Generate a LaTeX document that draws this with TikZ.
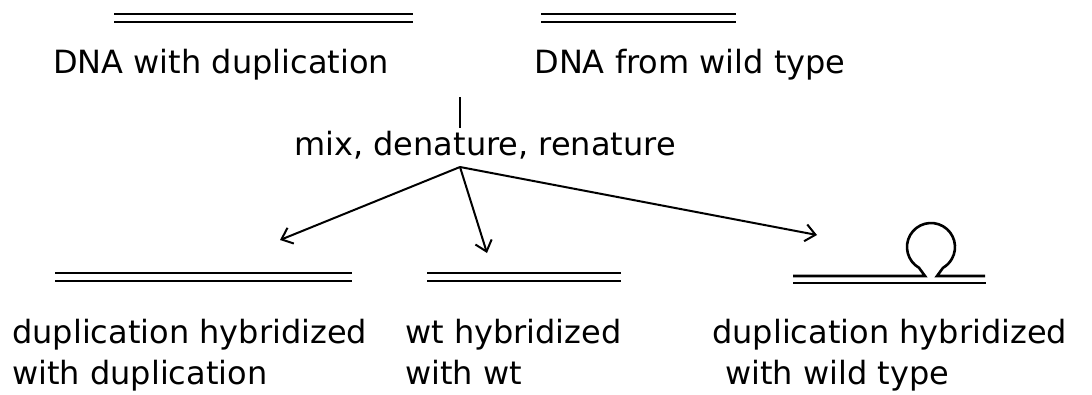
\documentclass[tikz,border=0pt]{standalone}
\usepackage{fontspec}
\setmainfont{DejaVu Sans}
\usetikzlibrary{arrows.meta}
\tikzset{
	strand/.style={double, double distance=5.4pt, line width=2.6pt},
	strandline/.style={line width=2.6pt},
	txt/.style={inner sep=0pt, font=\fontsize{32}{41}\selectfont, align=left},
}
\begin{document}
\begin{tikzpicture}[x=1pt,y=-1pt]
	\tikzset{>={Straight Barb[length=10pt,width=17pt]}}
	\useasboundingbox (0,0) rectangle (1092,394);

	% parent DNA
	\draw[strand] (114,18) -- (413,18);
	\draw[strand] (541,18) -- (736,18);
	\node[txt,anchor=base] (dupdna) at (221,73) {DNA with duplication};
	\node[txt,anchor=base] (wtdna) at (690,73) {DNA from wild type};

	% mixing
	\coordinate (mixtop) at (460,97);
	\coordinate (mixend) at (460,128);
	\draw[strandline] (mixtop) -- (mixend);
	\node[txt,anchor=base] (mix) at (485,155) {mix, denature, renature};

	% three products
	\coordinate (apex) at (460,167);
	\coordinate (tipdup) at (280,240);
	\coordinate (tipwt) at (487,253);
	\coordinate (tiphet) at (817,235);
	\draw[->,line width=2pt] (apex) -- (tipdup);
	\draw[->,line width=2pt] (apex) -- (tipwt);
	\draw[->,line width=2pt] (apex) -- (tiphet);

	\draw[strand] (55,277) -- (352,277);
	\draw[strand] (427,277) -- (621,277);
	\draw[strandline] (793,276) -- (925,276) -- (919,267.8)
		arc[start angle=120, end angle=420, radius=24] -- (937,276) -- (985,276);
	\draw[strandline] (793,283) -- (986,283);

	\node[txt,anchor=base west] (dupdup) at (12,384) {duplication hybridized\\with duplication};
	\node[txt,anchor=base west] (wtwt) at (405,384) {wt hybridized\\with wt};
	\node[txt,anchor=base west] (dupwt) at (712,384) {duplication hybridized\\\hspace*{13pt}with wild type};

\end{tikzpicture}
\end{document}
